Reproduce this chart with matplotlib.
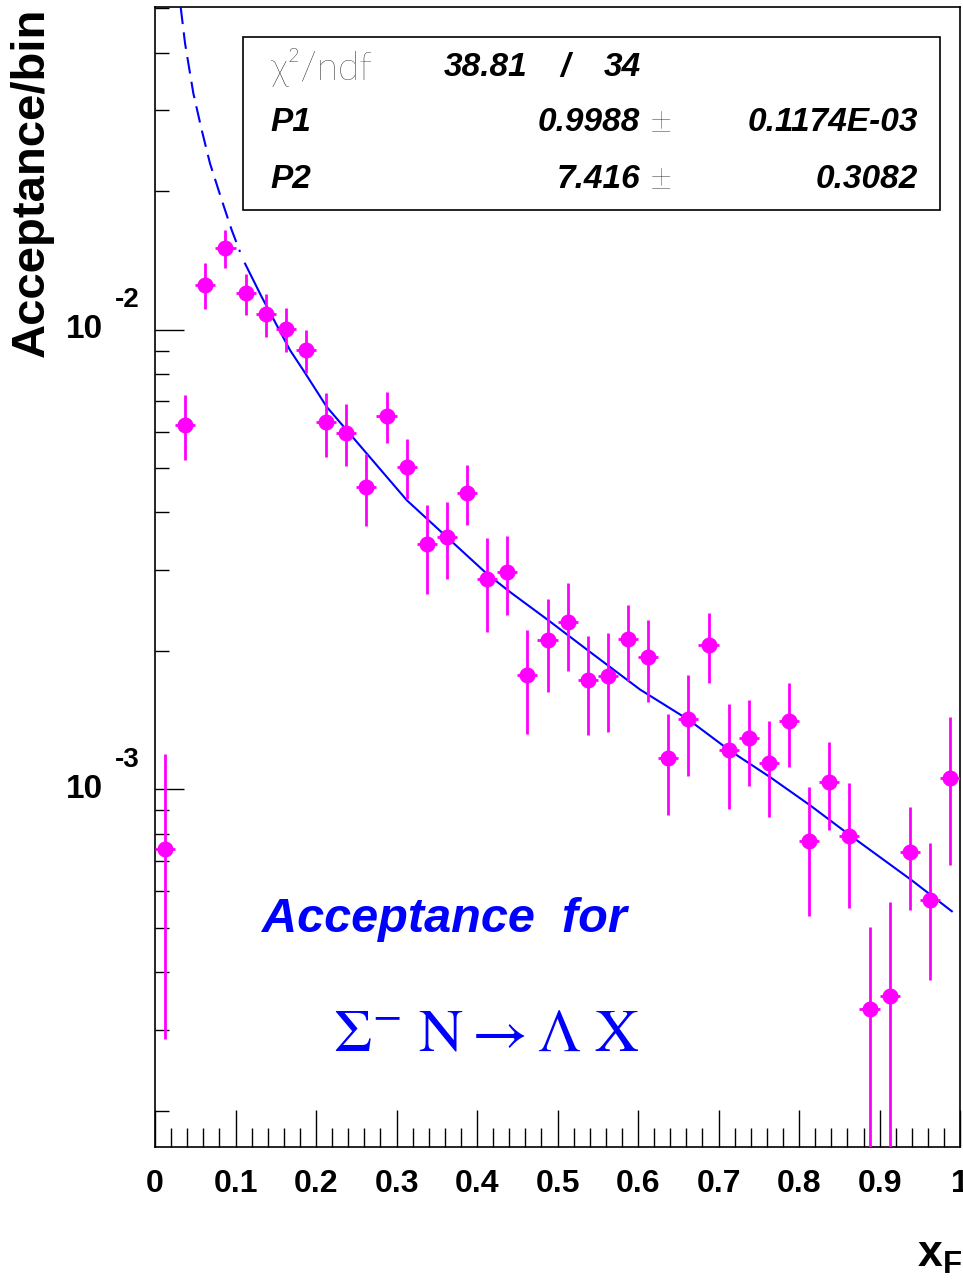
import numpy as np
import matplotlib
matplotlib.use('Agg')
import matplotlib.pyplot as plt
from matplotlib.ticker import FixedLocator, LogLocator, NullFormatter
from matplotlib.patches import Rectangle

plt.rcParams['font.family'] = ['Liberation Sans', 'DejaVu Sans']
plt.rcParams['mathtext.fontset'] = 'custom'
plt.rcParams['mathtext.bf'] = 'Liberation Sans:bold'
plt.rcParams['mathtext.rm'] = 'Liberation Sans'

# histogram: 40 bins in x_F from 0 to 1
bin_width = 0.025
xf = np.arange(0.0125, 1.0, bin_width)
acc = [7.41e-4, 6.21e-3, 1.249e-2, 1.503e-2, 1.198e-2, 1.080e-2, 1.005e-2, 9.02e-3,
       6.28e-3, 5.96e-3, 4.55e-3, 6.49e-3, 5.02e-3, 3.41e-3, 3.54e-3, 4.41e-3,
       2.86e-3, 2.97e-3, 1.77e-3, 2.11e-3, 2.31e-3, 1.73e-3, 1.76e-3, 2.12e-3,
       1.94e-3, 1.17e-3, 1.42e-3, 2.06e-3, 1.22e-3, 1.29e-3, 1.14e-3, 1.41e-3,
       7.71e-4, 1.04e-3, 7.91e-4, 3.33e-4, 3.55e-4, 7.31e-4, 5.75e-4, 1.06e-3]
acc_err = [4.55e-4, 1.0e-3, 1.43e-3, 1.42e-3, 1.25e-3, 1.15e-3, 1.11e-3, 0.98e-3,
           1.0e-3, 0.92e-3, 0.82e-3, 0.83e-3, 0.75e-3, 0.75e-3, 0.68e-3, 0.66e-3,
           0.66e-3, 0.58e-3, 0.45e-3, 0.48e-3, 0.50e-3, 0.42e-3, 0.43e-3, 0.40e-3,
           0.39e-3, 0.29e-3, 0.35e-3, 0.36e-3, 0.315e-3, 0.275e-3, 0.27e-3, 0.29e-3,
           0.24e-3, 0.225e-3, 0.24e-3, 0.17e-3, 0.214e-3, 0.185e-3, 0.19e-3, 0.375e-3]

# fitted curve (dashed outside the fit range)
fit_x_out = [0.0319, 0.0373, 0.0476, 0.0580, 0.0683, 0.0829, 0.0953, 0.1056]
fit_y_out = [5.015e-2, 4.188e-2, 3.261e-2, 2.714e-2, 2.296e-2, 1.911e-2, 1.644e-2, 1.475e-2]
fit_x = [0.1118, 0.1325, 0.1677, 0.1842, 0.2133, 0.2630, 0.3127, 0.3624, 0.4120,
         0.4410, 0.4886, 0.5404, 0.6025, 0.6637, 0.7134, 0.7640, 0.8137, 0.8634,
         0.9400, 0.9897]
fit_y = [1.391e-2, 1.177e-2, 9.016e-3, 8.154e-3, 6.787e-3, 5.373e-3, 4.253e-3,
         3.538e-3, 2.945e-3, 2.686e-3, 2.331e-3, 1.989e-3, 1.648e-3, 1.413e-3,
         1.216e-3, 1.063e-3, 9.23e-4, 7.94e-4, 6.34e-4, 5.43e-4]

chi2, ndf = 38.81, 34
par_names = ['P1', 'P2']
par_vals = ['0.9988', '7.416']
par_errs = ['0.1174E-03', '0.3082']

decades = [1e-3, 1e-2]
x_ticks = np.round(np.arange(0, 1.01, 0.1), 1)

fig = plt.figure(figsize=(9.63, 12.83), dpi=100)
ax = fig.add_axes([0.161, 0.1062, 0.836, 0.8881])

ax.errorbar(xf, acc, yerr=acc_err, xerr=bin_width / 2, fmt='o', color='#ff00ff',
            ms=10.5, elinewidth=2, capsize=0, zorder=3)
ax.plot(fit_x_out, fit_y_out, color='#0000ff', lw=1.5, ls=(0, (8, 4)))
ax.plot(fit_x, fit_y, color='#0000ff', lw=1.5)

ax.set_yscale('log')
ax.set_xlim(0, 1)
ax.set_ylim(1.67e-4, 5.02e-2)

for s in ax.spines.values():
    s.set_linewidth(1.2)

ax.xaxis.set_major_locator(FixedLocator(x_ticks))
ax.xaxis.set_minor_locator(FixedLocator(np.arange(0, 1.001, 0.02)))
ax.set_xticklabels(['0' if t == 0 else ('1' if t == 1 else f'{t:.1f}') for t in x_ticks])
ax.tick_params(axis='x', which='major', direction='in', length=26.5, width=1,
               pad=16, labelsize=23)
ax.tick_params(axis='x', which='minor', direction='in', length=13.5, width=1)
for lab in ax.get_xticklabels():
    lab.set_fontweight('bold')

ax.yaxis.set_major_locator(FixedLocator(decades))
ax.yaxis.set_minor_locator(LogLocator(base=10, subs=np.arange(2, 10)))
ax.yaxis.set_major_formatter(NullFormatter())
ax.yaxis.set_minor_formatter(NullFormatter())
ax.tick_params(axis='y', which='major', direction='in', length=21, width=1)
ax.tick_params(axis='y', which='minor', direction='in', length=10, width=1)

ytrans = ax.get_yaxis_transform()
for v in decades:
    ax.text(-0.0646, v, '10', transform=ytrans, ha='right', va='center',
            fontsize=24, fontweight='bold')
    ax.annotate(f'{int(np.log10(v))}', xy=(-0.050, v), xycoords=ytrans,
                xytext=(0, 21), textcoords='offset points', ha='left', va='center',
                fontsize=20, fontweight='bold')

ax.text(-0.1528, 0.9994, 'Acceptance/bin', transform=ax.transAxes, rotation=90,
        ha='center', va='top', fontsize=34, fontweight='bold')
ax.text(1.0025, -0.1056, r'$\mathbf{x}_{\mathbf{F}}$', transform=ax.transAxes,
        ha='right', va='baseline', fontsize=32)

# statistics box
ax.add_patch(Rectangle((0.1093, 0.8221), 0.8659, 0.1518, transform=ax.transAxes,
                       fill=False, ec='black', lw=1.2, zorder=4))
rows_y = [0.9476, 0.8990, 0.8490]
ax.text(0.1429, rows_y[0], 'χ²/ndf', transform=ax.transAxes, ha='left', va='center',
        fontsize=28, fontweight='light', color='black', family=['Lato', 'DejaVu Sans'])
ax.text(0.359, rows_y[0], f'{chi2:.2f}', transform=ax.transAxes, ha='left', va='center',
        fontsize=24, fontweight='bold', style='italic')
ax.text(0.5093, rows_y[0], '/', transform=ax.transAxes, ha='center', va='center',
        fontsize=24, fontweight='bold', style='italic')
ax.text(0.5578, rows_y[0], f'{ndf}', transform=ax.transAxes, ha='left', va='center',
        fontsize=24, fontweight='bold', style='italic')
for name, val, err, yy in zip(par_names, par_vals, par_errs, rows_y[1:]):
    ax.text(0.1429, yy, name, transform=ax.transAxes, ha='left', va='center',
            fontsize=24, fontweight='bold', style='italic')
    ax.text(0.6025, yy, val, transform=ax.transAxes, ha='right', va='center',
            fontsize=24, fontweight='bold', style='italic')
    ax.text(0.6286, yy, '±', transform=ax.transAxes, ha='center', va='center',
            fontsize=28, fontweight='light', color='black', family=['Lato', 'DejaVu Sans'])
    ax.text(0.9478, yy, err, transform=ax.transAxes, ha='right', va='center',
            fontsize=24, fontweight='bold', style='italic')

ax.text(0.1329, 0.1884, 'Acceptance  for', transform=ax.transAxes, ha='left',
        va='baseline', fontsize=35, fontweight='bold', style='italic', color='#0000ff')
ax.text(0.2211, 0.0849, r'$\Sigma^{-}\ \mathrm{N} \rightarrow \Lambda\ \mathrm{X}$',
        transform=ax.transAxes, ha='left', va='baseline', fontsize=44,
        color='#0000ff', math_fontfamily='stix')

fig.savefig('out.png', dpi=100)
